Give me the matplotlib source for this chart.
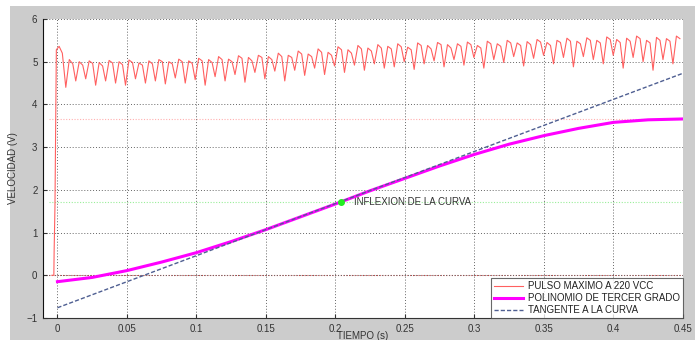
import matplotlib
matplotlib.use('Agg')
import matplotlib.pyplot as plt
from matplotlib.patches import Rectangle
import numpy as np

plt.rcParams['font.family'] = ['Liberation Sans', 'DejaVu Sans']

# pulso maximo a 220 VCC: arranque + valle / pico / hombro de cada ciclo
arranque_t = [-0.004, -0.0026, -0.0024, -0.0018, -0.0008, 0.0012, 0.0035]
arranque_v = [0.0, 0.0, 0.55, 1.6, 5.28, 5.36, 5.2]
t_valle0 = 0.006
periodo = 0.00716
valles = [4.40, 4.55, 4.60, 4.45, 4.55, 4.50, 4.45, 4.60, 4.50, 4.55,
          4.48, 4.62, 4.50, 4.58, 4.45, 4.65, 4.55, 4.70, 4.52, 4.75,
          4.60, 4.78, 4.55, 4.80, 4.68, 4.85, 4.70, 4.90, 4.75, 4.92,
          4.80, 4.95, 4.85, 4.88, 5.00, 4.82, 4.95, 5.02, 4.88, 5.05,
          4.92, 5.10, 4.85, 5.05, 4.98, 5.12, 4.90, 5.08, 5.15, 4.95,
          5.10, 4.88, 5.12, 5.05, 4.95, 5.15, 4.85, 5.10, 5.00, 4.80,
          5.05, 4.95]
picos = [5.05, 5.00, 5.02, 4.98, 5.03, 5.00, 5.04, 4.97, 5.02, 5.05,
         5.00, 5.06, 5.02, 5.08, 5.05, 5.12, 5.06, 5.14, 5.10, 5.15,
         5.12, 5.20, 5.15, 5.25, 5.18, 5.30, 5.22, 5.35, 5.28, 5.38,
         5.32, 5.40, 5.36, 5.42, 5.34, 5.44, 5.38, 5.45, 5.40, 5.42,
         5.46, 5.38, 5.48, 5.42, 5.50, 5.44, 5.47, 5.52, 5.45, 5.50,
         5.55, 5.48, 5.56, 5.50, 5.58, 5.52, 5.55, 5.60, 5.50, 5.57,
         5.54, 5.60]
hombros = [4.95, 4.92, 4.96, 4.90, 4.97, 4.93, 4.98, 4.92, 4.95, 5.00,
           4.95, 5.00, 4.96, 5.02, 4.98, 5.05, 5.00, 5.08, 5.02, 5.10,
           5.05, 5.12, 5.10, 5.18, 5.12, 5.22, 5.15, 5.28, 5.20, 5.30,
           5.25, 5.32, 5.30, 5.35, 5.28, 5.38, 5.30, 5.40, 5.32, 5.36,
           5.40, 5.32, 5.42, 5.36, 5.44, 5.38, 5.40, 5.46, 5.38, 5.45,
           5.48, 5.42, 5.50, 5.44, 5.52, 5.45, 5.48, 5.54, 5.44, 5.50,
           5.48, 5.54]

# polinomio de tercer grado (leido cada 0.025 s)
t_pol = [0.0, 0.025, 0.05, 0.075, 0.1, 0.125, 0.15, 0.175, 0.2, 0.225,
         0.25, 0.275, 0.3, 0.325, 0.35, 0.375, 0.4, 0.425, 0.45]
v_pol = [-0.15, -0.05, 0.11, 0.31, 0.53, 0.79, 1.07, 1.37, 1.67, 1.98,
         2.27, 2.56, 2.83, 3.07, 3.27, 3.44, 3.58, 3.64, 3.66]

# tangente en el punto de inflexion
t_tan = [0.0, 0.45]
v_tan = [-0.76, 4.73]
inflexion = (0.204, 1.72)
v_max_pol = 3.66

xticks = [0, 0.05, 0.1, 0.15, 0.2, 0.25, 0.3, 0.35, 0.4, 0.45]
xlabels = ['0', '0.05', '0.1', '0.15', '0.2', '0.25', '0.3', '0.35', '0.4', '0.45']
yticks = [-1, 0, 1, 2, 3, 4, 5, 6]

# armar la senal del pulso
t_red = list(arranque_t)
v_red = list(arranque_v)
for i in range(len(valles)):
    t0 = t_valle0 + i * periodo
    t_red += [t0, t0 + 0.35 * periodo, t0 + 0.7 * periodo]
    v_red += [valles[i], picos[i], hombros[i]]

fig = plt.figure(figsize=(6.95, 3.40), dpi=100, facecolor='white')
fondo = Rectangle((10 / 695, 0), 1, 1 - 6 / 340, transform=fig.transFigure,
                  facecolor='#cccccc', edgecolor='none', zorder=-10)
fig.patches.append(fondo)
ax = fig.add_axes([43 / 695, 1 - 318 / 340, 640 / 695, 299 / 340])
ax.set_zorder(1)
ax.set_facecolor('white')

# lineas de referencia
ax.axhline(0, color='#c04040', lw=0.8, ls=(0, (1, 1.5)), zorder=1)
ax.axhline(v_max_pol, xmin=0.01, color='#ffb0b0', lw=0.8, ls=(0, (1, 1.5)), zorder=1)
ax.axhline(inflexion[1], xmin=0.01, color='#99ee99', lw=0.8, ls=(0, (1, 1.5)), zorder=1)

ax.plot(t_red, v_red, color='#ff6060', lw=0.8, label='PULSO MAXIMO A 220 VCC', zorder=3)
ax.plot(t_pol, v_pol, color='#ff00ff', lw=2.2, label='POLINOMIO DE TERCER GRADO', zorder=4)
ax.plot(t_tan, v_tan, color='#4f5f92', lw=1.0, ls=(0, (3, 1.5)), label='TANGENTE A LA CURVA', zorder=5)
ax.plot([inflexion[0]], [inflexion[1]], 'o', color='#22ee22', ms=4, zorder=6)
ax.text(inflexion[0] + 0.009, inflexion[1], 'INFLEXION DE LA CURVA', fontsize=7,
        color='#333333', va='center', ha='left')

ax.set_xlim(-0.0104, 0.45)
ax.set_ylim(-1, 6)
ax.set_xticks(xticks)
ax.set_xticklabels(xlabels)
ax.set_yticks(yticks)
ax.tick_params(direction='in', length=3, labelsize=7, colors='#333333', pad=4)
ax.grid(True, color='#666666', lw=0.7, ls=(0, (1, 2)))
for s in ['top', 'right']:
    ax.spines[s].set_visible(False)
ax.spines['left'].set_color('#111111')
ax.spines['bottom'].set_color('#333333')

ax.set_xlabel('TIEMPO (s)', fontsize=7, color='#333333', va='top')
ax.xaxis.set_label_coords(0.5, -13 / 299)
ax.set_ylabel('VELOCIDAD (V)', fontsize=7, color='#333333', labelpad=6)

leg = ax.legend(loc='lower right', fontsize=7, frameon=True, fancybox=False,
                borderaxespad=0, handlelength=3.0, labelspacing=0.2,
                borderpad=0.3, handletextpad=0.5)
leg.get_frame().set_edgecolor('#444444')
leg.get_frame().set_linewidth(0.8)
for txt in leg.get_texts():
    txt.set_color('#222222')

fig.savefig('out.png', dpi=100, facecolor=fig.get_facecolor())
